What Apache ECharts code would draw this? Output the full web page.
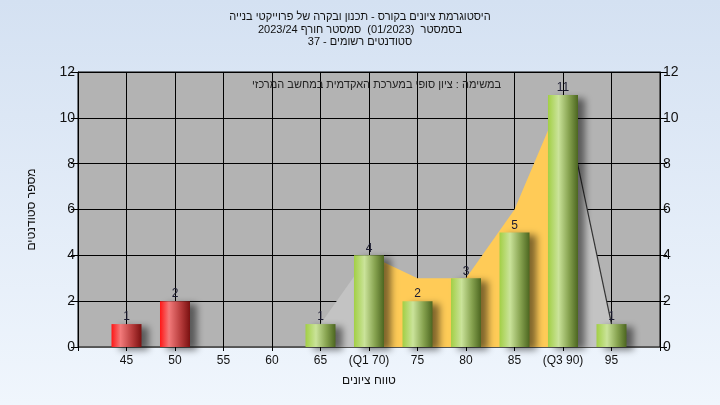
<!DOCTYPE html>
<html>
<head>
<meta charset="utf-8">
<script src="https://cdn.jsdelivr.net/npm/echarts@6/dist/echarts.min.js"></script>
<style>
html,body{margin:0;padding:0;}
#c{width:720px;height:405px;}
</style>
</head>
<body>
<div id="c"></div>
<script>
// ---- data ----
const titleLines = [
  'היסטוגרמת ציונים בקורס - תכנון ובקרה של פרוייקטי בנייה',
  'בסמסטר  (01/2023)  סמסטר חורף 2023/24',
  'סטודנטים רשומים - 37'
];
const noteText = 'במשימה : ציון סופי במערכת האקדמית במחשב המרכזי';
const xAxisName = 'טווח ציונים';
const yAxisName = 'מספר סטודנטים';

const tickValues = [45, 50, 55, 60, 65, 70, 75, 80, 85, 90, 95];
const tickLabels = ['45', '50', '55', '60', '65', '(Q1 70)', '75', '80', '85', '(Q3 90)', '95'];

const barScores = [45, 50, 65, 70, 75, 80, 85, 90, 95];
const barCounts = [1, 2, 1, 4, 2, 3, 5, 11, 1];
const passMark = 55;

const lowAreaX = [65, 70];
const lowAreaY = [1, 4];
const midAreaX = [70, 75, 80, 85, 90];
const midAreaY = [4, 3, 3, 6, 11];
const highAreaX = [90, 95];
const highAreaY = [11, 1];

// ---- styles ----
const FONT = "'Liberation Sans', 'DejaVu Sans', sans-serif";
const greenGrad = {type:'linear',x:0,y:0,x2:1,y2:0,colorStops:[
  {offset:0,color:'#A2CF45'},{offset:0.35,color:'#CAE39A'},{offset:0.7,color:'#86A24F'},{offset:1,color:'#4C6620'}]};
const redGrad = {type:'linear',x:0,y:0,x2:1,y2:0,colorStops:[
  {offset:0,color:'#FF1616'},{offset:0.3,color:'#F27A7A'},{offset:0.7,color:'#B53A3A'},{offset:1,color:'#7A1010'}]};

const zip = (xs, ys) => xs.map((x, i) => [x, ys[i]]);

const chart = echarts.init(document.getElementById('c'), null, {renderer:'canvas'});
chart.setOption({
  animation: false,
  backgroundColor: {type:'linear',x:0,y:0,x2:0,y2:1,colorStops:[
    {offset:0,color:'#D4E1F2'},{offset:1,color:'#F0F6FD'}]},
  title: [
    {
      text: titleLines.join('\n'),
      left: 'center', top: 6,
      textStyle: {fontFamily: FONT, fontSize: 11, fontWeight: 'normal', color: '#111', lineHeight: 12.5}
    },
    {
      text: noteText,
      left: 247, top: 74,
      textStyle: {fontFamily: FONT, fontSize: 11, fontWeight: 'normal', color: '#222'}
    }
  ],
  grid: {left: 78, right: 60, top: 72, bottom: 58, show: true,
         backgroundColor: '#B3B3B3', borderColor: '#000', borderWidth: 1},
  xAxis: {
    type: 'value', min: 40, max: 100, interval: 5,
    name: xAxisName, nameLocation: 'middle', nameGap: 28,
    nameTextStyle: {fontFamily: FONT, fontSize: 12, color: '#111'},
    axisLine: {show: true, onZero: false, lineStyle: {color: '#555', width: 1}},
    axisTick: {show: true, length: 4, lineStyle: {color: '#000'}},
    axisLabel: {fontFamily: FONT, fontSize: 12, color: '#111', margin: 8,
      formatter: v => { const i = tickValues.indexOf(v); return i >= 0 ? tickLabels[i] : ''; }},
    splitLine: {show: true, lineStyle: {color: '#000', width: 1}}
  },
  yAxis: [
    {
      type: 'value', min: 0, max: 12, interval: 2, position: 'left',
      name: yAxisName, nameLocation: 'middle', nameGap: 40,
      nameTextStyle: {fontFamily: FONT, fontSize: 12, color: '#111'},
      axisLine: {show: true, lineStyle: {color: '#000'}},
      axisTick: {show: true, length: 7, lineStyle: {color: '#000'}},
      axisLabel: {fontFamily: FONT, fontSize: 14, color: '#111', margin: 3},
      splitLine: {show: true, lineStyle: {color: '#000', width: 1}}
    },
    {
      type: 'value', min: 0, max: 12, interval: 2, position: 'right',
      axisLine: {show: true, lineStyle: {color: '#000'}},
      axisTick: {show: true, length: 7, lineStyle: {color: '#000'}},
      axisLabel: {fontFamily: FONT, fontSize: 14, color: '#111', margin: 3},
      splitLine: {show: false}
    }
  ],
  series: [
    {
      type: 'line', data: zip(lowAreaX, lowAreaY), symbol: 'none', z: 1,
      lineStyle: {width: 0}, areaStyle: {color: '#C3C3C3', opacity: 1}
    },
    {
      type: 'line', data: zip(midAreaX, midAreaY), symbol: 'none', z: 1,
      lineStyle: {width: 0}, areaStyle: {color: '#FFCB57', opacity: 1}
    },
    {
      type: 'line', data: zip(highAreaX, highAreaY), symbol: 'none', z: 1,
      lineStyle: {width: 1.2, color: '#333'}, areaStyle: {color: '#C3C3C3', opacity: 1}
    },
    {
      type: 'bar', barWidth: 30, z: 3,
      data: barScores.map((s, i) => ({
        value: [s, barCounts[i]],
        itemStyle: {color: s < passMark ? redGrad : greenGrad}
      })),
      itemStyle: {shadowColor: 'rgba(0,0,0,0.5)', shadowBlur: 7, shadowOffsetX: 7, shadowOffsetY: 3},
      label: {show: true, position: 'top', distance: 1,
        fontFamily: FONT, fontSize: 12, color: '#1b1b30',
        formatter: p => p.value[1]}
    }
  ]
});
</script>
</body>
</html>
